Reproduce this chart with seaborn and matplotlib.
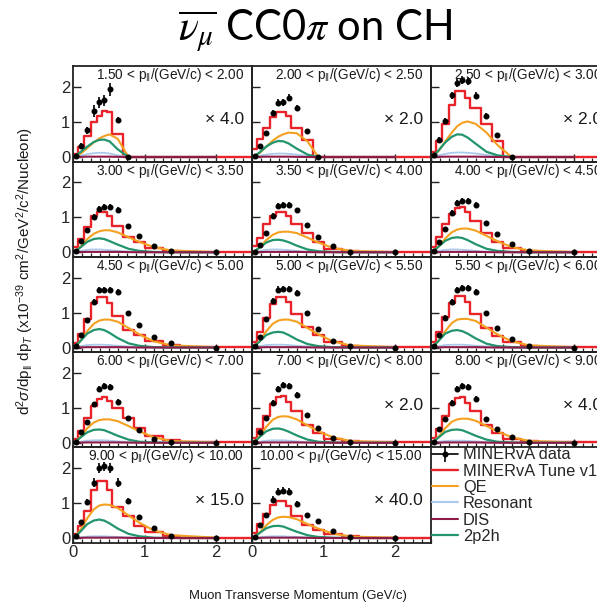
import numpy as np
import matplotlib
matplotlib.use("Agg")
import matplotlib.pyplot as plt
import seaborn as sns
from matplotlib.lines import Line2D
from matplotlib.ticker import MultipleLocator, FixedLocator, NullFormatter

nan = float("nan")

# ---------------- data ----------------
bin_edges = [0, 0.07, 0.15, 0.25, 0.33, 0.4, 0.47, 0.55, 0.7, 0.85, 1.0, 1.25, 1.5, 2.5]
bin_centers = [0.035, 0.11, 0.2, 0.29, 0.365, 0.435, 0.51, 0.625, 0.775, 0.925, 1.125, 1.375, 2.0]

panel_lo = ["1.50", "2.00", "2.50", "3.00", "3.50", "4.00", "4.50", "5.00", "5.50",
            "6.00", "7.00", "8.00", "9.00", "10.00"]
panel_hi = ["2.00", "2.50", "3.00", "3.50", "4.00", "4.50", "5.00", "5.50", "6.00",
            "7.00", "8.00", "9.00", "10.00", "15.00"]
scale_labels = ["× 4.0", "× 2.0", "× 2.0", "", "", "", "", "", "", "", "× 2.0", "× 4.0",
                "× 15.0", "× 40.0"]

data_vals = [
    [0.04, 0.33, 0.77, 1.32, 1.57, 1.62, 1.94, 1.06, 0.0, nan, nan, nan, nan],
    [0.03, 0.33, 0.68, 1.27, 1.55, 1.57, 1.70, 1.41, 0.74, 0.0, nan, nan, nan],
    [0.06, 0.50, 1.04, 1.77, 2.12, 2.20, 2.18, 1.75, 1.18, 0.63, 0.0, nan, nan],
    [0.03, 0.31, 0.64, 1.02, 1.24, 1.30, 1.30, 1.22, 0.76, 0.48, 0.17, 0.03, 0.0],
    [0.02, 0.21, 0.56, 1.05, 1.33, 1.36, 1.36, 1.21, 0.78, 0.45, 0.17, 0.02, 0.0],
    [0.03, 0.28, 0.66, 1.13, 1.42, 1.46, 1.46, 1.36, 0.84, 0.52, 0.24, 0.03, 0.0],
    [0.03, 0.36, 0.80, 1.30, 1.64, 1.64, 1.64, 1.60, 1.00, 0.64, 0.30, 0.12, 0.0],
    [0.03, 0.31, 0.82, 1.34, 1.66, 1.68, 1.68, 1.57, 1.00, 0.54, 0.19, 0.03, 0.0],
    [0.05, 0.36, 0.86, 1.30, 1.65, 1.70, 1.70, 1.60, 1.00, 0.57, 0.24, 0.05, 0.0],
    [0.03, 0.30, 0.60, 1.10, 1.55, 1.62, 1.60, 1.18, 0.72, 0.36, 0.12, 0.02, 0.0],
    [0.03, 0.30, 0.70, 1.15, 1.55, 1.65, 1.62, 1.38, 0.79, 0.41, 0.15, 0.03, 0.0],
    [0.03, 0.40, 0.67, 1.15, 1.55, 1.62, 1.60, 1.25, 0.67, 0.40, 0.17, 0.03, 0.0],
    [0.07, 0.47, 1.04, 1.59, 2.00, 2.05, 2.00, 1.59, 1.06, 0.60, 0.28, 0.06, 0.0],
    [0.02, 0.37, 0.65, 1.10, 1.33, 1.36, 1.33, 0.98, 0.67, 0.49, 0.19, 0.02, 0.0],
]
data_errs = [
    [0.03, 0.07, 0.10, 0.16, 0.16, 0.17, 0.19, 0.08, 0.02, 0.01, 0.01, 0.01, 0.01],
    [0.02, 0.05, 0.07, 0.09, 0.10, 0.10, 0.10, 0.08, 0.05, 0.01, 0.01, 0.01, 0.01],
    [0.03, 0.06, 0.08, 0.10, 0.11, 0.11, 0.11, 0.10, 0.07, 0.05, 0.01, 0.01, 0.01],
    [0.02, 0.04, 0.06, 0.07, 0.08, 0.08, 0.08, 0.07, 0.05, 0.04, 0.02, 0.01, 0.01],
    [0.02, 0.04, 0.06, 0.07, 0.08, 0.08, 0.08, 0.07, 0.05, 0.04, 0.02, 0.01, 0.01],
    [0.02, 0.04, 0.06, 0.08, 0.09, 0.09, 0.09, 0.08, 0.06, 0.04, 0.02, 0.01, 0.01],
    [0.02, 0.04, 0.06, 0.08, 0.09, 0.09, 0.09, 0.08, 0.06, 0.04, 0.02, 0.01, 0.01],
    [0.02, 0.04, 0.06, 0.08, 0.09, 0.09, 0.09, 0.08, 0.06, 0.04, 0.02, 0.01, 0.01],
    [0.02, 0.04, 0.06, 0.08, 0.09, 0.09, 0.09, 0.08, 0.06, 0.04, 0.02, 0.01, 0.01],
    [0.02, 0.04, 0.06, 0.08, 0.09, 0.09, 0.09, 0.08, 0.06, 0.04, 0.02, 0.01, 0.01],
    [0.02, 0.04, 0.06, 0.08, 0.09, 0.09, 0.09, 0.08, 0.06, 0.04, 0.02, 0.01, 0.01],
    [0.02, 0.04, 0.06, 0.08, 0.09, 0.09, 0.09, 0.08, 0.06, 0.04, 0.02, 0.01, 0.01],
    [0.03, 0.06, 0.09, 0.12, 0.14, 0.14, 0.14, 0.12, 0.08, 0.05, 0.03, 0.01, 0.01],
    [0.02, 0.05, 0.07, 0.10, 0.10, 0.10, 0.10, 0.08, 0.06, 0.04, 0.02, 0.01, 0.01],
]
tune_vals = [
    [0.09, 0.30, 0.60, 1.00, 1.18, 1.32, 1.28, 0.66, 0.0, 0.0, 0.0, 0.0, 0.0],
    [0.22, 0.52, 0.84, 1.15, 1.30, 1.30, 1.17, 0.84, 0.50, 0.0, 0.0, 0.0, 0.0],
    [0.15, 0.47, 0.95, 1.50, 1.88, 1.90, 1.70, 1.40, 0.95, 0.45, 0.0, 0.0, 0.0],
    [0.14, 0.38, 0.73, 1.05, 1.16, 1.16, 1.05, 0.76, 0.43, 0.29, 0.12, 0.05, 0.005],
    [0.19, 0.42, 0.81, 1.04, 1.15, 1.15, 1.04, 0.80, 0.55, 0.28, 0.10, 0.03, 0.005],
    [0.15, 0.45, 0.82, 1.10, 1.26, 1.29, 1.15, 0.90, 0.55, 0.30, 0.12, 0.04, 0.005],
    [0.12, 0.40, 0.82, 1.29, 1.45, 1.45, 1.29, 0.90, 0.50, 0.36, 0.18, 0.06, 0.01],
    [0.15, 0.45, 0.85, 1.25, 1.46, 1.46, 1.30, 0.95, 0.60, 0.35, 0.15, 0.05, 0.01],
    [0.15, 0.45, 0.88, 1.27, 1.47, 1.47, 1.30, 0.95, 0.55, 0.32, 0.15, 0.05, 0.01],
    [0.12, 0.35, 0.72, 1.05, 1.25, 1.30, 1.20, 1.00, 0.70, 0.42, 0.20, 0.08, 0.01],
    [0.14, 0.40, 0.78, 1.12, 1.32, 1.35, 1.18, 0.92, 0.50, 0.27, 0.12, 0.05, 0.01],
    [0.14, 0.40, 0.76, 1.10, 1.28, 1.30, 1.15, 0.90, 0.52, 0.28, 0.12, 0.05, 0.01],
    [0.12, 0.35, 0.76, 1.39, 1.63, 1.63, 1.39, 0.90, 0.62, 0.35, 0.17, 0.07, 0.01],
    [0.14, 0.40, 0.70, 0.95, 1.05, 1.05, 0.92, 0.64, 0.36, 0.23, 0.11, 0.05, 0.01],
]
qe_vals = [
    [0.02, 0.10, 0.26, 0.42, 0.53, 0.60, 0.65, 0.52, 0.0, 0.0, 0.0, 0.0, 0.0],
    [0.02, 0.12, 0.30, 0.47, 0.58, 0.65, 0.70, 0.68, 0.45, 0.0, 0.0, 0.0, 0.0],
    [0.03, 0.18, 0.45, 0.70, 0.88, 0.98, 1.02, 0.95, 0.70, 0.35, 0.0, 0.0, 0.0],
    [0.03, 0.17, 0.38, 0.53, 0.60, 0.63, 0.63, 0.57, 0.43, 0.30, 0.15, 0.05, 0.005],
    [0.02, 0.15, 0.35, 0.50, 0.57, 0.59, 0.59, 0.55, 0.42, 0.28, 0.13, 0.04, 0.005],
    [0.03, 0.17, 0.40, 0.57, 0.65, 0.68, 0.68, 0.62, 0.47, 0.32, 0.15, 0.05, 0.005],
    [0.03, 0.20, 0.47, 0.68, 0.77, 0.80, 0.80, 0.74, 0.56, 0.38, 0.18, 0.06, 0.01],
    [0.03, 0.20, 0.47, 0.68, 0.77, 0.80, 0.80, 0.74, 0.56, 0.38, 0.18, 0.06, 0.01],
    [0.03, 0.20, 0.47, 0.70, 0.80, 0.82, 0.82, 0.76, 0.57, 0.38, 0.18, 0.06, 0.01],
    [0.03, 0.18, 0.42, 0.58, 0.65, 0.67, 0.67, 0.62, 0.48, 0.33, 0.16, 0.05, 0.01],
    [0.03, 0.20, 0.46, 0.66, 0.74, 0.76, 0.75, 0.67, 0.50, 0.33, 0.16, 0.05, 0.01],
    [0.03, 0.18, 0.42, 0.60, 0.67, 0.69, 0.69, 0.63, 0.48, 0.33, 0.16, 0.05, 0.01],
    [0.04, 0.25, 0.57, 0.82, 0.93, 0.96, 0.95, 0.86, 0.65, 0.44, 0.22, 0.08, 0.01],
    [0.03, 0.16, 0.37, 0.52, 0.59, 0.61, 0.60, 0.54, 0.40, 0.27, 0.13, 0.04, 0.01],
]
res_vals = [
    [0.01, 0.04, 0.08, 0.11, 0.12, 0.12, 0.10, 0.05, 0.0, 0.0, 0.0, 0.0, 0.0],
    [0.01, 0.04, 0.07, 0.09, 0.10, 0.10, 0.09, 0.07, 0.03, 0.0, 0.0, 0.0, 0.0],
    [0.01, 0.05, 0.09, 0.12, 0.13, 0.13, 0.12, 0.10, 0.06, 0.02, 0.0, 0.0, 0.0],
    [0.0, 0.04, 0.07, 0.08, 0.08, 0.07, 0.06, 0.04, 0.02, 0.01, 0.0, 0.0, 0.0],
    [0.0, 0.04, 0.07, 0.08, 0.08, 0.07, 0.06, 0.04, 0.02, 0.01, 0.0, 0.0, 0.0],
    [0.0, 0.04, 0.07, 0.08, 0.08, 0.07, 0.06, 0.04, 0.02, 0.01, 0.0, 0.0, 0.0],
    [0.0, 0.04, 0.07, 0.08, 0.08, 0.08, 0.07, 0.05, 0.03, 0.01, 0.0, 0.0, 0.0],
    [0.0, 0.04, 0.07, 0.08, 0.08, 0.08, 0.07, 0.05, 0.03, 0.01, 0.0, 0.0, 0.0],
    [0.0, 0.04, 0.07, 0.08, 0.08, 0.08, 0.07, 0.05, 0.03, 0.01, 0.0, 0.0, 0.0],
    [0.0, 0.03, 0.06, 0.07, 0.07, 0.07, 0.06, 0.04, 0.02, 0.01, 0.0, 0.0, 0.0],
    [0.0, 0.03, 0.06, 0.07, 0.07, 0.07, 0.06, 0.04, 0.02, 0.01, 0.0, 0.0, 0.0],
    [0.0, 0.03, 0.05, 0.06, 0.06, 0.06, 0.05, 0.04, 0.02, 0.01, 0.0, 0.0, 0.0],
    [0.0, 0.02, 0.04, 0.05, 0.05, 0.05, 0.04, 0.03, 0.02, 0.01, 0.0, 0.0, 0.0],
    [0.0, 0.02, 0.04, 0.05, 0.05, 0.05, 0.04, 0.03, 0.02, 0.01, 0.0, 0.0, 0.0],
]
dis_vals = [
    [0.0, 0.005, 0.01, 0.01, 0.01, 0.01, 0.01, 0.005, 0.0, 0.0, 0.0, 0.0, 0.0],
    [0.0, 0.005, 0.01, 0.01, 0.01, 0.01, 0.01, 0.005, 0.0, 0.0, 0.0, 0.0, 0.0],
    [0.0, 0.005, 0.01, 0.01, 0.01, 0.01, 0.01, 0.01, 0.005, 0.0, 0.0, 0.0, 0.0],
    [0.0, 0.005, 0.01, 0.01, 0.01, 0.01, 0.01, 0.01, 0.005, 0.0, 0.0, 0.0, 0.0],
    [0.0, 0.005, 0.01, 0.01, 0.01, 0.01, 0.01, 0.01, 0.005, 0.0, 0.0, 0.0, 0.0],
    [0.0, 0.005, 0.01, 0.01, 0.01, 0.01, 0.01, 0.01, 0.005, 0.0, 0.0, 0.0, 0.0],
    [0.0, 0.005, 0.01, 0.01, 0.01, 0.01, 0.01, 0.01, 0.005, 0.0, 0.0, 0.0, 0.0],
    [0.0, 0.005, 0.01, 0.01, 0.01, 0.01, 0.01, 0.01, 0.005, 0.0, 0.0, 0.0, 0.0],
    [0.0, 0.005, 0.01, 0.01, 0.01, 0.01, 0.01, 0.01, 0.005, 0.0, 0.0, 0.0, 0.0],
    [0.0, 0.005, 0.01, 0.01, 0.01, 0.01, 0.01, 0.01, 0.005, 0.0, 0.0, 0.0, 0.0],
    [0.0, 0.005, 0.01, 0.01, 0.01, 0.01, 0.01, 0.01, 0.005, 0.0, 0.0, 0.0, 0.0],
    [0.0, 0.005, 0.01, 0.01, 0.01, 0.01, 0.01, 0.01, 0.005, 0.0, 0.0, 0.0, 0.0],
    [0.0, 0.005, 0.01, 0.01, 0.01, 0.01, 0.01, 0.01, 0.005, 0.0, 0.0, 0.0, 0.0],
    [0.0, 0.005, 0.01, 0.01, 0.01, 0.01, 0.01, 0.01, 0.005, 0.0, 0.0, 0.0, 0.0],
]
mec_vals = [
    [0.03, 0.15, 0.30, 0.43, 0.49, 0.50, 0.45, 0.22, 0.0, 0.0, 0.0, 0.0, 0.0],
    [0.03, 0.14, 0.30, 0.41, 0.46, 0.45, 0.39, 0.24, 0.07, 0.0, 0.0, 0.0, 0.0],
    [0.04, 0.20, 0.42, 0.58, 0.65, 0.64, 0.56, 0.38, 0.15, 0.05, 0.0, 0.0, 0.0],
    [0.03, 0.15, 0.30, 0.38, 0.40, 0.38, 0.32, 0.22, 0.10, 0.04, 0.01, 0.0, 0.0],
    [0.03, 0.14, 0.28, 0.35, 0.36, 0.34, 0.29, 0.19, 0.08, 0.03, 0.01, 0.0, 0.0],
    [0.03, 0.17, 0.33, 0.41, 0.43, 0.41, 0.35, 0.23, 0.10, 0.04, 0.01, 0.0, 0.0],
    [0.04, 0.20, 0.40, 0.50, 0.53, 0.50, 0.42, 0.27, 0.12, 0.05, 0.01, 0.0, 0.0],
    [0.03, 0.18, 0.36, 0.43, 0.45, 0.43, 0.36, 0.23, 0.10, 0.04, 0.01, 0.0, 0.0],
    [0.04, 0.20, 0.40, 0.48, 0.50, 0.47, 0.40, 0.26, 0.11, 0.04, 0.01, 0.0, 0.0],
    [0.03, 0.16, 0.30, 0.37, 0.38, 0.36, 0.30, 0.20, 0.09, 0.03, 0.01, 0.0, 0.0],
    [0.03, 0.17, 0.33, 0.40, 0.41, 0.38, 0.32, 0.21, 0.09, 0.03, 0.01, 0.0, 0.0],
    [0.03, 0.16, 0.31, 0.37, 0.38, 0.36, 0.30, 0.20, 0.09, 0.03, 0.01, 0.0, 0.0],
    [0.04, 0.20, 0.40, 0.50, 0.53, 0.50, 0.42, 0.27, 0.12, 0.05, 0.01, 0.0, 0.0],
    [0.03, 0.15, 0.28, 0.34, 0.35, 0.33, 0.27, 0.18, 0.08, 0.03, 0.01, 0.0, 0.0],
]

legend_labels = ["MINERvA data", "MINERvA Tune v1", "QE", "Resonant", "DIS", "2p2h"]

# ---------------- style ----------------
sns.set_style("ticks")
plt.rcParams["font.family"] = ["Liberation Sans", "DejaVu Sans"]
plt.rcParams["mathtext.fontset"] = "custom"
plt.rcParams["mathtext.rm"] = "Liberation Sans"
plt.rcParams["mathtext.it"] = "Liberation Sans:italic"
plt.rcParams["mathtext.bf"] = "Liberation Sans:bold"

c_tune = "#e8232a"
c_qe = "#f4a020"
c_res = "#a9cbee"
c_dis = "#8e1b47"
c_mec = "#23956c"
c_frame = "#222222"
c_text = "#1a1a1a"

W, H = 597, 614
fig = plt.figure(figsize=(W / 100, H / 100), dpi=100)

x0, y0, pw, ph = 73, 66.3, 179, 95.25


def panel_rect(r, c):
    left = x0 + c * pw
    top = y0 + r * ph
    return [left / W, 1 - (top + ph) / H, pw / W, ph / H]


for i in range(14):
    r, c = divmod(i, 3)
    ax = fig.add_axes(panel_rect(r, c))
    sns.histplot(x=bin_centers, weights=tune_vals[i], bins=bin_edges, element="step",
                 fill=False, color=c_tune, linewidth=1.7, ax=ax, zorder=2)
    sns.lineplot(x=bin_centers, y=qe_vals[i], color=c_qe, linewidth=1.5, ax=ax,
                 legend=False, errorbar=None, zorder=4)
    sns.lineplot(x=bin_centers, y=res_vals[i], color=c_res, linewidth=1.3, ax=ax,
                 legend=False, errorbar=None, zorder=4)
    sns.lineplot(x=bin_centers, y=mec_vals[i], color=c_mec, linewidth=1.6, ax=ax,
                 legend=False, errorbar=None, zorder=5)
    sns.lineplot(x=bin_centers, y=dis_vals[i], color=c_dis, linewidth=1.5, ax=ax,
                 legend=False, errorbar=None, zorder=5)
    ax.errorbar(bin_centers, data_vals[i], yerr=data_errs[i], fmt="o", ms=3.3,
                color="black", elinewidth=1.2, capsize=0, zorder=10, clip_on=True)

    ax.set_xlim(0, 2.5)
    ax.set_ylim(-0.13, 2.6)
    ax.set_xlabel("")
    ax.set_ylabel("")
    ax.xaxis.set_major_locator(FixedLocator([0, 1, 2]))
    ax.xaxis.set_minor_locator(MultipleLocator(0.125))
    ax.yaxis.set_major_locator(FixedLocator([0, 1, 2]))
    ax.tick_params(which="major", direction="in", length=6, width=1.0, top=False,
                   right=False, labelsize=12, pad=2, color=c_frame)
    ax.tick_params(which="minor", direction="in", length=3, width=0.9, top=False,
                   right=False, color=c_frame)
    ax.tick_params(axis="y", which="minor", left=False)
    for s in ax.spines.values():
        s.set_linewidth(1.3)
        s.set_color(c_frame)
        s.set_visible(True)
    if c != 0:
        ax.yaxis.set_major_formatter(NullFormatter())
    if r != 4:
        ax.xaxis.set_major_formatter(NullFormatter())
    ax.patch.set_alpha(0)

    ax.text(0.955, 0.905, panel_lo[i] + r" < p$_{\Vert}$/(GeV/c) < " + panel_hi[i],
            transform=ax.transAxes, ha="right", va="center", fontsize=9.8,
            color=c_text, zorder=20)
    if scale_labels[i]:
        ax.text(0.955, 0.44, scale_labels[i], transform=ax.transAxes, ha="right",
                va="center", fontsize=12.5, color=c_text)

# legend panel
lax = fig.add_axes(panel_rect(4, 2))
lax.axis("off")
h_data = (Line2D([], [], color="black", lw=1.2),
          Line2D([], [], color="black", marker="|", ms=11, mew=1.2, ls="none"),
          Line2D([], [], color="black", marker="o", ms=3.3, ls="none"))
handles = [h_data,
           Line2D([], [], color=c_tune, lw=1.7),
           Line2D([], [], color=c_qe, lw=1.5),
           Line2D([], [], color=c_res, lw=1.5),
           Line2D([], [], color=c_dis, lw=1.5),
           Line2D([], [], color=c_mec, lw=1.6)]
lax.legend(handles, legend_labels, loc="upper left", bbox_to_anchor=(0.005, 1.0),
           frameon=False, fontsize=11.8, labelspacing=0.08, handlelength=1.6,
           handletextpad=0.3, borderpad=0, borderaxespad=0)

# axis titles
fig.text(25 / W, 1 - 271 / H,
         r"d$^{2}\sigma$/dp$_{\Vert}$ dp$_{T}$ (x10$^{-39}$ cm$^{2}$/GeV$^{2}$/c$^{2}$/Nucleon)",
         rotation=90, ha="center", va="center", fontsize=11, color=c_text)
fig.text(298 / W, 1 - 596 / H, "Muon Transverse Momentum (GeV/c)", ha="center",
         va="center", fontsize=9.4, color=c_text)

# slide title
fig.text(315 / W, 1 - 31 / H, r"$\overline{\nu_{\mu}}$ CC0$\pi$ on CH", ha="center",
         va="center", fontsize=30, family=["Lato", "DejaVu Sans"], math_fontfamily="stix",
         color="black")

fig.savefig("out.png", dpi=100)
